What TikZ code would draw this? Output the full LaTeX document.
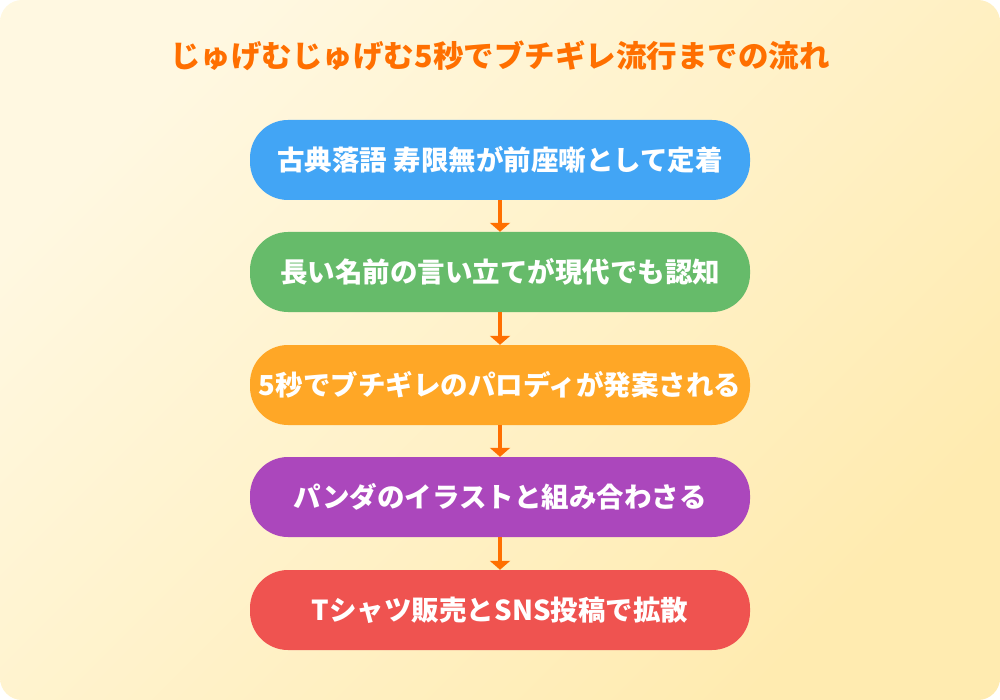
\documentclass[tikz,border=0pt]{standalone}
\usepackage{fontspec}
\setmainfont{Noto Sans CJK JP}
\usepackage{tikz}
\usetikzlibrary{shapes,arrows,arrows.meta}
\usetikzlibrary{positioning}

\definecolor{bgtop}{HTML}{FFF8E1}
\definecolor{bgbottom}{HTML}{FFEBB0}
\definecolor{titleorange}{HTML}{FF6F00}
\definecolor{arroworange}{HTML}{FF6F00}
\definecolor{stepblue}{HTML}{42A5F5}
\definecolor{stepgreen}{HTML}{66BB6A}
\definecolor{steporange}{HTML}{FFA726}
\definecolor{steppurple}{HTML}{AB47BC}
\definecolor{stepred}{HTML}{EF5350}

\begin{document}
\begin{tikzpicture}[x=1pt,y=-1pt,
        flowbox/.style={rectangle, rounded corners=38pt, minimum width=500pt, minimum height=80pt,
            inner sep=0pt, text=white, font=\fontsize{27.5}{32}\selectfont\bfseries},
        flowarrow/.style={draw=arroworange, line width=4pt, -{Triangle[width=20pt,length=9pt]}}]
        \useasboundingbox (0,0) rectangle (1000,700);
        \shade[top color=bgtop, bottom color=bgbottom, shading angle=45, rounded corners=22pt] (0,0) rectangle (1000,700);

        \node at (500,56) [text=titleorange, font=\fontsize{30.5}{34}\selectfont\bfseries] (title) {じゅげむじゅげむ5秒でブチギレ流行までの流れ};

        \node at (500,160) [flowbox, fill=stepblue] (rakugo) {古典落語 寿限無が前座噺として定着};
        \node at (500,272) [flowbox, fill=stepgreen] (namae) {長い名前の言い立てが現代でも認知};
        \node at (500,385) [flowbox, fill=steporange] (parody) {5秒でブチギレのパロディが発案される};
        \node at (500,497) [flowbox, fill=steppurple] (panda) {パンダのイラストと組み合わさる};
        \node at (500,610) [flowbox, fill=stepred] (kakusan) {Tシャツ販売とSNS投稿で拡散};

        \draw[flowarrow] (rakugo)  -- (namae);
        \draw[flowarrow] (namae)   -- (parody);
        \draw[flowarrow] (parody)  -- (panda);
        \draw[flowarrow] (panda)   -- (kakusan);
    \end{tikzpicture}
\end{document}
